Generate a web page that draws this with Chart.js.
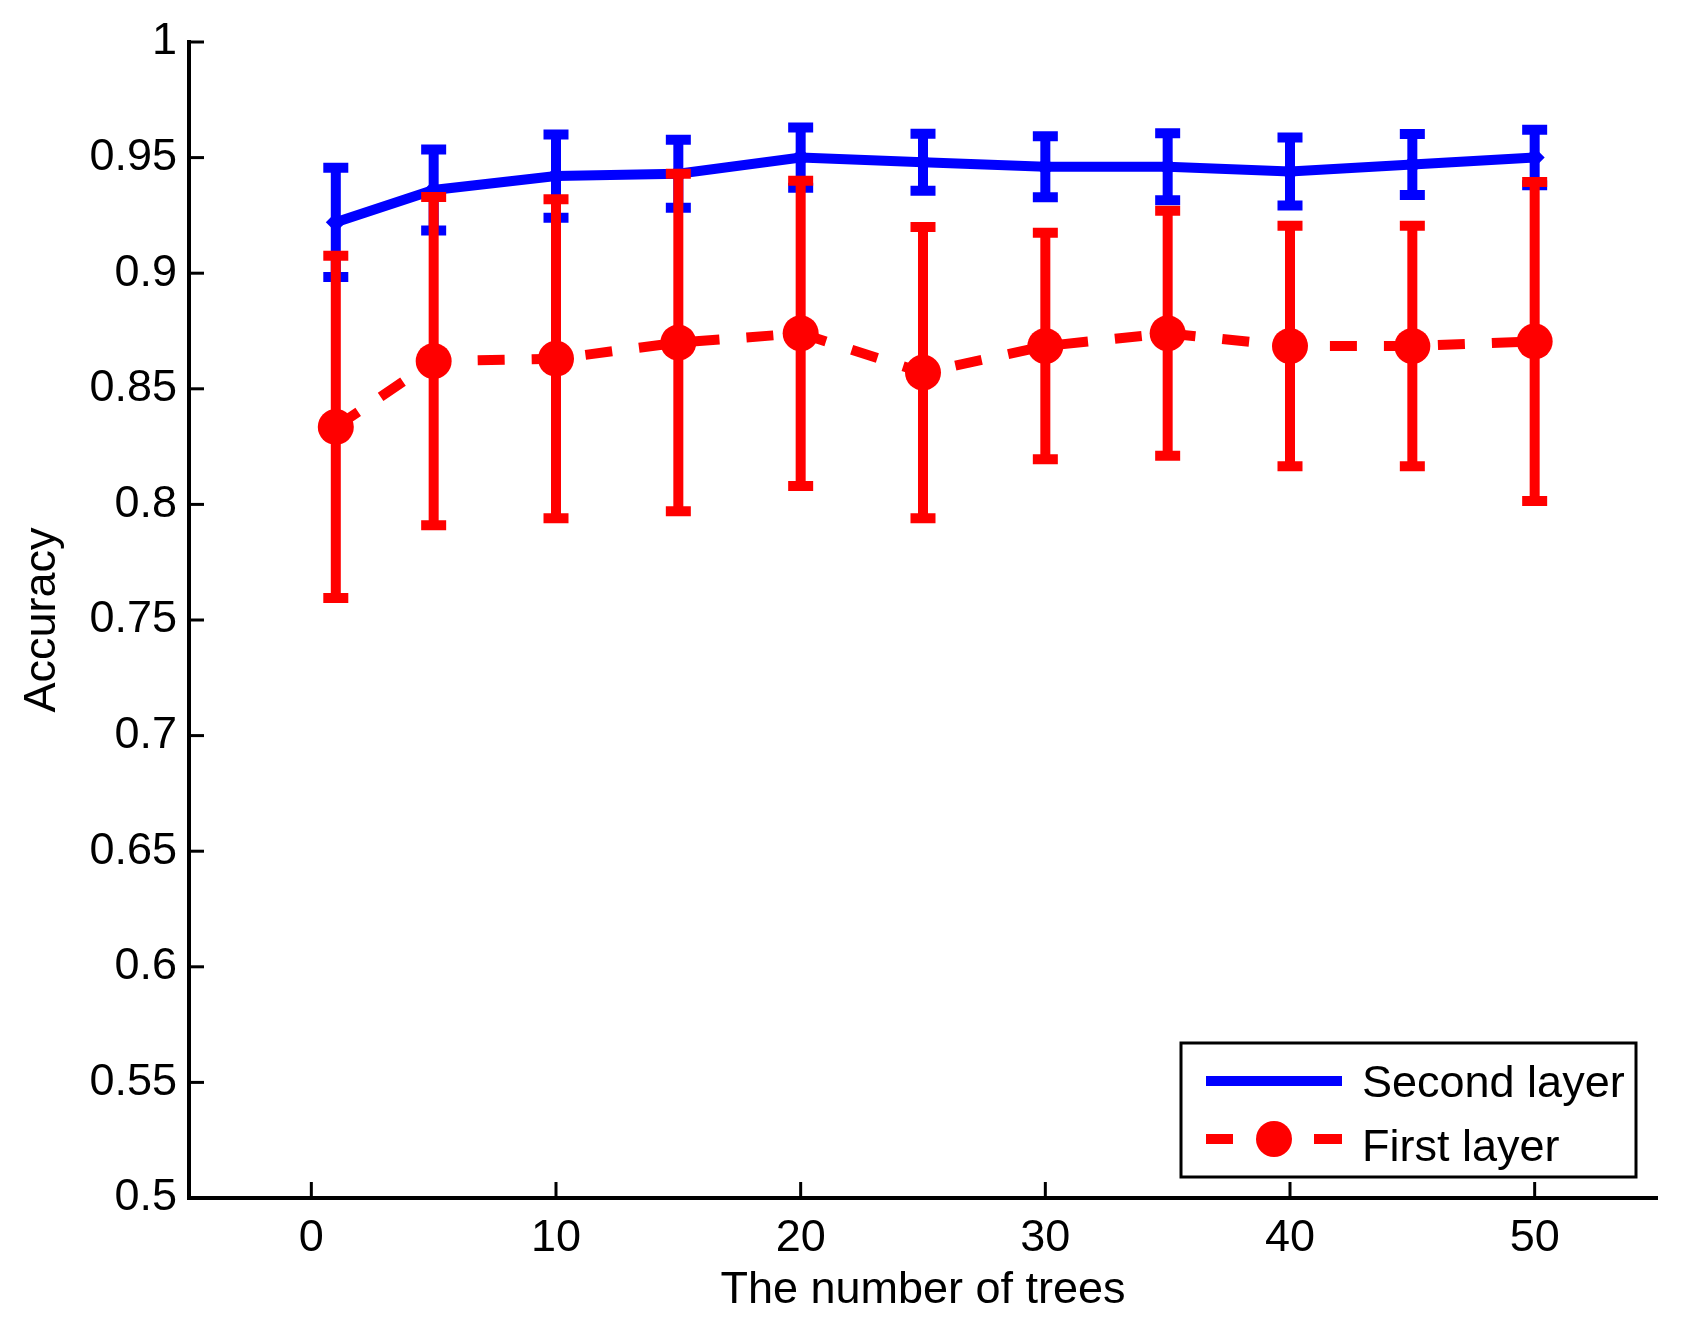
<!DOCTYPE html>
<html>
<head>
<meta charset="utf-8">
<script src="https://cdn.jsdelivr.net/npm/chart.js@4.4.1/dist/chart.umd.min.js"></script>
<style>
  body { margin: 0; background: #fff; }
  #wrap { width: 1685px; height: 1333px; }
</style>
</head>
<body>
<div id="wrap"><canvas id="myChart" width="1685" height="1333"></canvas></div>
<script>
// values
const trees = [1, 5, 10, 15, 20, 25, 30, 35, 40, 45, 50];
const secondMean = [0.922, 0.936, 0.942, 0.943, 0.950, 0.948, 0.946, 0.946, 0.944, 0.947, 0.950];
const secondErr  = [0.0236, 0.0175, 0.018, 0.0147, 0.013, 0.0123, 0.0132, 0.0145, 0.0147, 0.0132, 0.012];
const firstMean  = [0.8335, 0.862, 0.863, 0.870, 0.874, 0.857, 0.8685, 0.874, 0.8685, 0.8685, 0.8705];
const firstErr   = [0.074, 0.071, 0.069, 0.073, 0.066, 0.063, 0.049, 0.053, 0.052, 0.052, 0.069];
const xTicks = [0, 10, 20, 30, 40, 50];
const yTicks = [0.5, 0.55, 0.6, 0.65, 0.7, 0.75, 0.8, 0.85, 0.9, 0.95, 1];

const FONT = "'Liberation Sans', Arial, Helvetica, sans-serif";
const FS = 45;
Chart.defaults.font.family = FONT;
Chart.defaults.color = '#000';

/* error bars are drawn under each dataset's own line */
const errorBars = {
    id: 'errorBars',
    beforeDatasetDraw(chart, args) {
        const ds = chart.data.datasets[args.index];
        if (!ds.errors) return;
        const ctx = chart.ctx;
        const x = chart.scales.x, y = chart.scales.y;
        ctx.save();
        ctx.strokeStyle = ds.borderColor;
        ctx.lineWidth = 10;
        ctx.lineCap = 'butt';
        ds.data.forEach((p, i) => {
            const px = x.getPixelForValue(p.x);
            const top = y.getPixelForValue(p.y + ds.errors[i]);
            const bot = y.getPixelForValue(p.y - ds.errors[i]);
            ctx.beginPath();
            ctx.moveTo(px, top); ctx.lineTo(px, bot);
            ctx.moveTo(px - 12.5, top); ctx.lineTo(px + 12.5, top);
            ctx.moveTo(px - 12.5, bot); ctx.lineTo(px + 12.5, bot);
            ctx.stroke();
        });
        ctx.restore();
    }
};

/* MATLAB style inward ticks + boxed legend */
const matlabAxes = {
    id: 'matlabAxes',
    afterDraw(chart) {
        const ctx = chart.ctx;
        const area = chart.chartArea;
        const x = chart.scales.x, y = chart.scales.y;
        ctx.save();
        ctx.strokeStyle = '#000';
        ctx.lineWidth = 3;
        x.ticks.forEach(t => {
            const px = x.getPixelForValue(t.value);
            ctx.beginPath();
            ctx.moveTo(px, area.bottom); ctx.lineTo(px, area.bottom - 16);
            ctx.stroke();
        });
        y.ticks.forEach(t => {
            const py = y.getPixelForValue(t.value);
            ctx.beginPath();
            ctx.moveTo(area.left, py); ctx.lineTo(area.left + 15, py);
            ctx.stroke();
        });

        // legend
        const bx = 1181, by = 1043, bw = 455, bh = 134;
        ctx.fillStyle = '#fff';
        ctx.fillRect(bx, by, bw, bh);
        ctx.lineWidth = 3;
        ctx.strokeRect(bx, by, bw, bh);

        ctx.lineWidth = 10;
        ctx.strokeStyle = 'rgb(0,0,255)';
        ctx.beginPath();
        ctx.moveTo(1206, 1081); ctx.lineTo(1342, 1081);
        ctx.stroke();

        ctx.strokeStyle = 'rgb(255,0,0)';
        ctx.beginPath();
        ctx.moveTo(1206, 1139); ctx.lineTo(1233, 1139);
        ctx.moveTo(1314, 1139); ctx.lineTo(1342, 1139);
        ctx.stroke();
        ctx.fillStyle = 'rgb(255,0,0)';
        ctx.beginPath();
        ctx.arc(1274, 1139, 18, 0, Math.PI * 2);
        ctx.fill();

        ctx.fillStyle = '#000';
        ctx.font = FS + 'px ' + FONT;
        ctx.textBaseline = 'alphabetic';
        ctx.textAlign = 'left';
        ctx.fillText('Second layer', 1362, 1097);
        ctx.fillText('First layer', 1362, 1161);
        ctx.restore();
    }
};

const ctx = document.getElementById('myChart');
new Chart(ctx, {
    type: 'line',
    data: {
        datasets: [{
            label: 'Second layer',
            data: trees.map((t, i) => ({ x: t, y: secondMean[i] })),
            errors: secondErr,
            borderColor: 'rgb(0,0,255)',
            backgroundColor: 'rgb(0,0,255)',
            borderWidth: 10,
            pointStyle: 'rectRot',
            pointRadius: 10,
            pointBorderWidth: 0,
            tension: 0,
            order: 2
        }, {
            label: 'First layer',
            data: trees.map((t, i) => ({ x: t, y: firstMean[i] })),
            errors: firstErr,
            borderColor: 'rgb(255,0,0)',
            backgroundColor: 'rgb(255,0,0)',
            borderWidth: 10,
            borderDash: [27, 27],
            borderCapStyle: 'butt',
            pointStyle: 'circle',
            pointRadius: 18,
            pointBorderWidth: 0,
            tension: 0,
            order: 1
        }]
    },
    options: {
        responsive: false,
        animation: false,
        devicePixelRatio: 1,
        layout: { padding: { top: 42, right: 28, left: 0, bottom: 0 } },
        plugins: {
            legend: { display: false },
            tooltip: { enabled: false }
        },
        scales: {
            x: {
                type: 'linear',
                min: -5,
                max: 55,
                afterBuildTicks: s => { s.ticks = xTicks.map(v => ({ value: v })); },
                afterFit: s => { s.height = 135; },
                grid: { drawOnChartArea: false, drawTicks: false },
                border: { display: true, color: '#000', width: 4 },
                ticks: { padding: 14, font: { size: FS }, color: '#000' },
                title: {
                    display: true,
                    text: 'The number of trees',
                    font: { size: FS },
                    color: '#000',
                    padding: { top: 0, bottom: 15 }
                }
            },
            y: {
                min: 0.5,
                max: 1,
                afterBuildTicks: s => { s.ticks = yTicks.map(v => ({ value: v })); },
                afterFit: s => { s.width = 189; },
                grid: { drawOnChartArea: false, drawTicks: false },
                border: { display: true, color: '#000', width: 4 },
                ticks: {
                    padding: 12,
                    font: { size: FS },
                    color: '#000',
                    callback: v => String(parseFloat(v.toFixed(2)))
                },
                title: {
                    display: true,
                    text: 'Accuracy',
                    font: { size: FS },
                    color: '#000',
                    padding: { top: 16, bottom: 0 }
                }
            }
        }
    },
    plugins: [errorBars, matlabAxes]
});
</script>
</body>
</html>
